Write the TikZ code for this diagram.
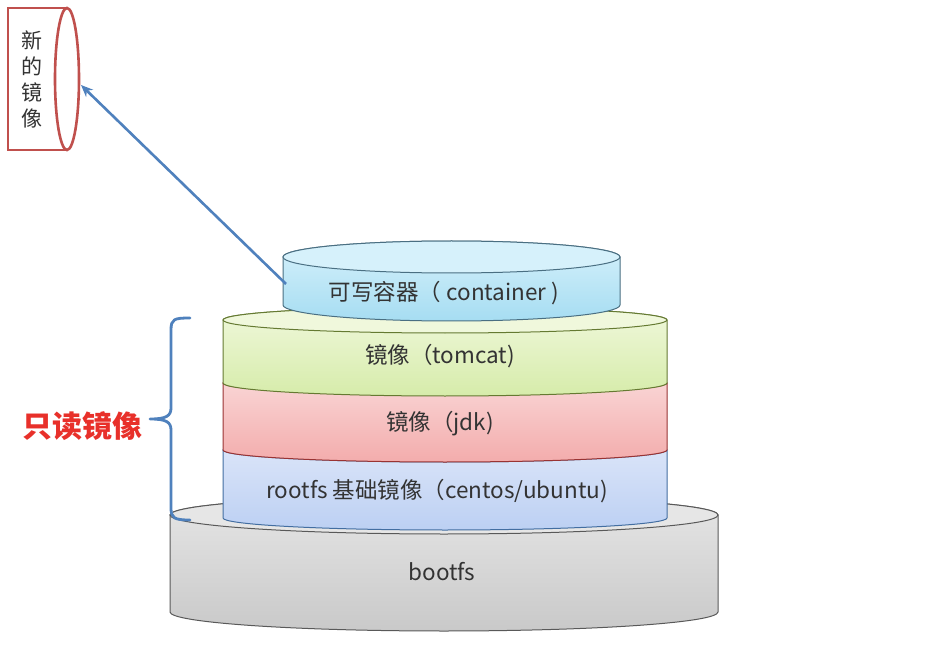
\documentclass[tikz,border=0pt]{standalone}
\usepackage{fontspec}
\setmainfont{Noto Sans CJK SC}
\usetikzlibrary{arrows.meta}
\definecolor{arrowblue}{HTML}{4F81BD}
\definecolor{imgred}{HTML}{C0504D}
\definecolor{labelred}{HTML}{E8302A}
\definecolor{txt}{HTML}{333333}
\definecolor{contT}{HTML}{D6F1FB}
\definecolor{contB}{HTML}{A6DDF2}
\definecolor{tomT}{HTML}{F0F8DC}
\definecolor{tomB}{HTML}{D6ECAA}
\definecolor{jdkT}{HTML}{FADADA}
\definecolor{jdkB}{HTML}{F3ACAC}
\definecolor{rootT}{HTML}{DEE7F9}
\definecolor{rootB}{HTML}{BCD0F3}
\definecolor{bootT}{HTML}{E6E6E6}
\definecolor{bootB}{HTML}{C9C9C9}
\newcommand{\mycyl}[9]{%
  % #1 x1, #2 x2, #3 cx, #4 rx, #5 ytop, #6 ybot, #7 ry, #8 topcol, #9 botcol
  \shade[top color=#8,bottom color=#9,draw=cylline,line width=1pt]
    (#1,#5) -- (#1,#6) arc[start angle=180,end angle=360,x radius=#4,y radius=#7]
    -- (#2,#5) arc[start angle=0,end angle=180,x radius=#4,y radius=#7] -- cycle;
  \fill[#8,draw=cylline,line width=1pt] (#3,#5) ellipse[x radius=#4,y radius=#7];
}
\begin{document}
\begin{tikzpicture}[x=1pt,y=1pt,
  layertext/.style={text=txt,font=\fontsize{22.5}{26}\selectfont,inner sep=0pt},
  brace/.style={draw=arrowblue,line width=2.8pt,line cap=round,line join=round}]
\useasboundingbox[fill=white] (0,0) rectangle (927,-647);
% bootfs
\colorlet{cylline}{black!65}
\mycyl{170}{718}{444}{274}{-515}{-612}{19}{bootT}{bootB}
% rootfs
\colorlet{cylline}{arrowblue!85!black}
\mycyl{223}{667}{445}{222}{-450}{-518}{12}{rootT}{rootB}
% jdk
\colorlet{cylline}{red!50!black!80}
\mycyl{223}{667}{445}{222}{-383}{-450}{12}{jdkT}{jdkB}
% tomcat
\colorlet{cylline}{olive!60!green!70!black}
\mycyl{223}{667}{445}{222}{-320}{-383}{13}{tomT}{tomB}
% container
\colorlet{cylline}{cyan!45!black}
\mycyl{283}{620}{451.5}{168.5}{-257}{-305}{16}{contT}{contB}

\node[layertext] (cont) at (444,-293) {可写容器（ container )};
\node[layertext] (tomcat) at (440,-356) {镜像（tomcat)};
\node[layertext] (jdk) at (440,-424) {镜像（jdk)};
\node[layertext] (rootfs) at (437,-491) {rootfs 基础镜像（centos/ubuntu)};
\node[layertext] (bootfs) at (442,-572) {bootfs};

% new image (horizontal cylinder)
\draw[imgred,line width=2.6pt] (67,-8) -- (8,-8) -- (8,-150) -- (67,-150);
\draw[imgred,line width=2.6pt] (67,-79) ellipse[x radius=12,y radius=71];
\node[text=txt,font=\fontsize{21}{26}\selectfont,align=center,inner sep=0pt] (newimg) at (32,-79) {新\\的\\镜\\像};
\coordinate (newimgR) at (81,-85);
\coordinate (contL) at (286,-284);
\draw[arrowblue,line width=2.6pt,-{Stealth[length=12pt,width=10pt]}] (contL) -- (newimgR);

% brace
\draw[brace] (190,-318) .. controls (174,-318) and (171,-319) .. (171,-330)
  -- (171,-408) .. controls (171,-416) and (166,-419) .. (150,-419)
  .. controls (166,-419) and (171,-422) .. (171,-430)
  -- (171,-508) .. controls (171,-518) and (174,-520) .. (190,-520);
\node[text=labelred,font=\fontsize{30}{34}\selectfont\bfseries,inner sep=0pt] (ro) at (83,-426) {只读镜像};
\end{tikzpicture}
\end{document}
